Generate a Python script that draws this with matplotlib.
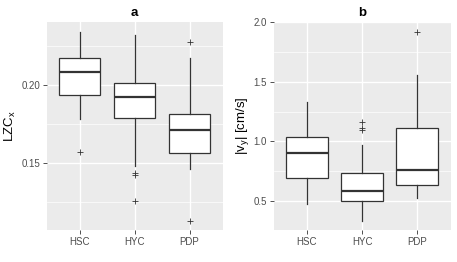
import matplotlib.pyplot as plt

groups = ['HSC', 'HYC', 'PDP']

# LZC_x box statistics: whislo, q1, med, q3, whishi, outliers
lzc_whislo = [0.1782, 0.1485, 0.1466]
lzc_q1 = [0.1936, 0.1793, 0.1568]
lzc_med = [0.2083, 0.1923, 0.1716]
lzc_q3 = [0.2173, 0.2013, 0.1818]
lzc_whishi = [0.2340, 0.2323, 0.2173]
lzc_fliers = [[0.1570], [0.1436, 0.1423, 0.1256], [0.2280, 0.1128]]

# |v_y| box statistics
vy_whislo = [0.475, 0.331, 0.525]
vy_q1 = [0.694, 0.495, 0.632]
vy_med = [0.902, 0.584, 0.761]
vy_q3 = [1.034, 0.731, 1.115]
vy_whishi = [1.334, 0.967, 1.559]
vy_fliers = [[], [1.163, 1.112, 1.098], [1.922]]

plt.rcParams['font.family'] = ['Liberation Sans', 'DejaVu Sans']

fig = plt.figure(figsize=(4.57, 2.62), dpi=100)
ax1 = fig.add_axes([0.102, 0.122, 0.385, 0.794])
ax2 = fig.add_axes([0.599, 0.122, 0.387, 0.794])


def draw(ax, lo, q1, med, q3, hi, fl, ylim, major, minor, ylabel, title):
    stats = []
    for i in range(len(groups)):
        stats.append({'whislo': lo[i], 'q1': q1[i], 'med': med[i], 'q3': q3[i],
                      'whishi': hi[i], 'fliers': fl[i], 'label': groups[i]})
    ax.set_facecolor('#EBEBEB')
    ax.set_yticks(major)
    ax.set_yticks(minor, minor=True)
    ax.grid(which='major', color='white', linewidth=1.0)
    ax.grid(which='minor', axis='y', color='white', linewidth=0.5)
    ax.set_axisbelow(True)
    ax.bxp(stats, positions=[1, 2, 3], widths=0.76, patch_artist=True,
           showcaps=False,
           boxprops=dict(facecolor='white', edgecolor='#333333', linewidth=0.9),
           whiskerprops=dict(color='#333333', linewidth=0.9),
           medianprops=dict(color='#333333', linewidth=1.6),
           flierprops=dict(marker='+', markersize=4.5, markeredgecolor='#333333',
                           markeredgewidth=0.6, linestyle='none'))
    ax.set_xlim(0.4, 3.6)
    ax.set_ylim(*ylim)
    ax.set_xticks([1, 2, 3])
    ax.set_xticklabels(groups)
    for s in ax.spines.values():
        s.set_visible(False)
    ax.tick_params(axis='both', which='major', length=2.8, width=0.6, color='#333333',
                   labelsize=7, labelcolor='#4D4D4D', pad=2)
    ax.tick_params(axis='y', which='minor', length=0)
    ax.set_ylabel(ylabel, fontsize=9.5, labelpad=2)
    ax.set_title(title, fontsize=9.5, fontweight='bold', pad=4)


draw(ax1, lzc_whislo, lzc_q1, lzc_med, lzc_q3, lzc_whishi, lzc_fliers,
     (0.1072, 0.2406), [0.15, 0.20], [0.125, 0.175, 0.225], 'LZC$_\\mathregular{x}$', 'a')
ax1.set_yticklabels(['0.15', '0.20'])
draw(ax2, vy_whislo, vy_q1, vy_med, vy_q3, vy_whishi, vy_fliers,
     (0.253, 2.003), [0.5, 1.0, 1.5, 2.0], [0.75, 1.25, 1.75], '|v$_\\mathregular{y}$| [cm/s]', 'b')
ax2.set_yticklabels(['0.5', '1.0', '1.5', '2.0'])

fig.savefig('out.png', dpi=100)
